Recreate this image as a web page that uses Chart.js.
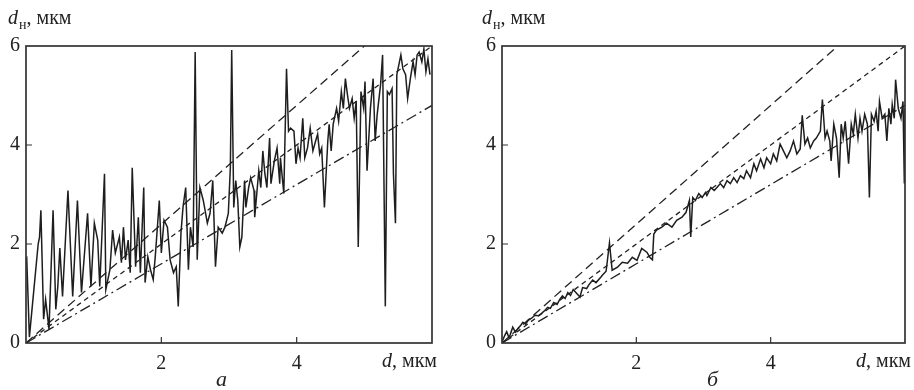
<!DOCTYPE html>
<html>
<head>
<meta charset="utf-8">
<script src="https://cdn.jsdelivr.net/npm/chart.js@4.4.0/dist/chart.umd.min.js"></script>
<style>
  body { margin: 0; background: #fff; }
  #tela { position: relative; width: 914px; height: 390px; overflow: hidden; }
  canvas { position: absolute; top: 0; }
  .txt { position: absolute; font-family: "Liberation Serif", serif; color: #222; white-space: nowrap; font-size: 20px; line-height: 22px; }
  .cap { font-size: 22px; line-height: 26px; font-style: italic; }
  sub { font-size: 14px; vertical-align: -5px; margin-left: 1px; }
</style>
</head>
<body>
<div id="tela">
  <canvas id="graf1" width="457" height="390" style="left:0px"></canvas>
  <canvas id="graf2" width="457" height="390" style="left:457px"></canvas>

  <div class="txt" style="left:8px;top:6px"><i>d</i><sub>н</sub>, мкм</div>
  <div class="txt" style="left:382px;top:349px"><i>d</i>, мкм</div>
  <div class="txt cap" style="left:216px;top:366px">а</div>

  <div class="txt" style="left:482px;top:6px"><i>d</i><sub>н</sub>, мкм</div>
  <div class="txt" style="left:856px;top:349px"><i>d</i>, мкм</div>
  <div class="txt cap" style="left:707px;top:366px">б</div>
</div>

<script>
// dados do painel a
var xA = [0.01,0.05,0.18,0.20,0.22,0.26,0.29,0.34,0.40,0.44,
          0.47,0.50,0.54,0.62,0.69,0.76,0.82,0.91,0.96,1.01,
          1.06,1.09,1.16,1.18,1.24,1.28,1.32,1.38,1.41,1.44,
          1.47,1.51,1.54,1.57,1.62,1.66,1.69,1.74,1.76,1.80,
          1.84,1.88,1.91,1.97,2.00,2.04,2.09,2.13,2.18,2.22,
          2.25,2.29,2.32,2.36,2.40,2.43,2.47,2.50,2.53,2.57,
          2.62,2.68,2.72,2.76,2.80,2.84,2.90,2.94,2.99,3.02,
          3.04,3.07,3.10,3.13,3.16,3.19,3.23,3.25,3.29,3.32,
          3.37,3.38,3.44,3.47,3.50,3.53,3.56,3.60,3.62,3.67,
          3.71,3.75,3.76,3.81,3.85,3.88,3.91,3.96,3.99,4.02,
          4.05,4.09,4.12,4.16,4.20,4.24,4.28,4.31,4.34,4.37,
          4.41,4.46,4.48,4.51,4.54,4.59,4.62,4.66,4.69,4.72,
          4.75,4.78,4.82,4.85,4.88,4.91,4.95,4.99,5.01,5.04,
          5.09,5.13,5.16,5.19,5.24,5.27,5.31,5.34,5.37,5.41,
          5.43,5.46,5.48,5.51,5.54,5.57,5.61,5.64,5.68,5.72,
          5.75,5.78,5.81,5.85,5.88,5.91,5.94,5.97]
var yA = [1.75,0.12,2.00,2.14,2.68,0.48,0.88,0.28,2.68,0.68,
          1.14,1.92,0.94,3.08,0.94,2.88,1.02,2.62,1.14,2.42,
          2.08,1.14,3.42,1.08,1.48,2.28,1.82,2.14,1.62,2.34,
          1.68,2.08,1.42,3.54,1.54,2.54,1.42,3.14,1.22,1.74,
          1.48,1.28,1.74,2.88,1.82,2.48,2.34,1.68,1.42,1.54,
          0.74,2.22,2.74,3.14,1.48,2.34,1.94,5.88,1.68,3.14,
          2.88,2.42,2.62,3.28,1.54,2.34,2.22,2.34,2.62,3.54,
          5.92,2.74,3.28,2.88,1.94,2.14,3.28,2.74,3.14,3.34,
          3.08,2.54,3.48,3.14,3.88,3.42,3.14,4.14,3.22,3.68,
          3.94,3.22,3.74,3.02,5.54,4.28,4.34,4.28,3.62,3.94,
          3.74,4.54,3.74,3.94,4.34,3.88,4.08,4.22,3.82,3.94,
          2.74,4.08,4.42,3.88,4.42,4.74,4.48,5.08,4.74,5.34,
          5.02,4.74,4.94,4.54,4.88,1.94,5.08,4.74,5.28,3.48,
          4.74,5.34,4.08,4.62,5.22,5.82,0.74,5.08,5.02,5.14,
          3.42,2.42,5.42,5.62,5.82,5.54,5.42,4.94,5.34,5.68,
          5.42,5.82,5.88,5.68,5.94,5.48,5.74,5.42]

// dados do painel б
var xB = [0.00,0.04,0.07,0.10,0.12,0.16,0.20,0.24,0.28,0.31,
          0.35,0.39,0.44,0.49,0.54,0.59,0.64,0.68,0.72,0.77,
          0.82,0.86,0.90,0.94,0.98,1.02,1.06,1.10,1.16,1.20,
          1.26,1.29,1.35,1.40,1.47,1.50,1.55,1.60,1.64,1.72,
          1.79,1.87,1.94,2.01,2.08,2.16,2.20,2.24,2.26,2.30,
          2.38,2.45,2.53,2.60,2.68,2.74,2.79,2.81,2.84,2.88,
          2.93,2.98,3.03,3.05,3.11,3.16,3.20,3.25,3.30,3.35,
          3.40,3.45,3.50,3.55,3.60,3.64,3.70,3.75,3.79,3.85,
          3.90,3.94,4.00,4.04,4.09,4.14,4.19,4.24,4.29,4.34,
          4.39,4.44,4.47,4.51,4.55,4.59,4.64,4.68,4.74,4.77,
          4.81,4.84,4.88,4.90,4.94,4.98,5.02,5.05,5.08,5.11,
          5.16,5.20,5.23,5.26,5.30,5.33,5.36,5.40,5.44,5.47,
          5.50,5.54,5.57,5.60,5.62,5.66,5.70,5.73,5.76,5.79,
          5.81,5.84,5.86,5.90,5.94,5.97,5.99,6.00]
var yB = [0.02,0.15,0.23,0.12,0.16,0.32,0.22,0.30,0.36,0.42,
          0.38,0.46,0.50,0.56,0.55,0.60,0.66,0.72,0.70,0.82,
          0.78,0.88,0.95,0.90,1.02,0.96,1.08,1.02,0.93,1.12,
          1.10,1.17,1.27,1.22,1.33,1.38,1.45,2.02,1.47,1.53,
          1.63,1.61,1.73,1.67,1.91,1.83,1.73,1.68,2.20,2.28,
          2.34,2.42,2.34,2.48,2.54,2.64,2.88,2.14,2.94,2.88,
          3.02,2.94,3.04,2.98,3.14,3.08,3.14,3.22,3.14,3.28,
          3.22,3.34,3.24,3.38,3.32,3.48,3.34,3.62,3.48,3.72,
          3.54,3.74,3.62,3.82,3.68,4.02,3.88,3.74,3.88,4.08,
          3.82,3.92,4.60,4.02,4.14,3.94,4.08,4.14,4.28,4.92,
          4.14,4.28,4.08,3.68,4.42,4.14,3.34,4.42,4.14,4.48,
          3.62,4.42,4.22,4.62,4.14,4.54,4.28,4.62,4.42,2.94,
          4.62,4.48,4.68,4.28,4.88,4.54,4.62,4.08,4.74,4.42,
          4.82,4.54,5.32,4.74,4.54,4.88,3.22,4.74]

// retas de referencia (inicio e fim)
var xReta = [0, 6]
var retaTraco = [0, 7.2]      // tracejado longo
var retaPonto = [0, 6.0]      // tracejado curto
var retaTracoPonto = [0, 4.8] // traco-ponto

var marcas = [2, 4]

function pares(xs, ys) {
  return xs.map(function(v, i) { return { x: v, y: ys[i] } })
}

// moldura do grafico e marcas para dentro
var moldura = {
  id: 'moldura',
  afterDatasetsDraw: function(chart) {
    var ctx = chart.ctx
    var a = chart.chartArea
    var sx = chart.scales.x
    var sy = chart.scales.y
    ctx.save()
    ctx.strokeStyle = '#333'
    ctx.lineWidth = 1.7
    ctx.strokeRect(a.left, a.top, a.right - a.left, a.bottom - a.top)
    ctx.lineWidth = 1.2
    ctx.beginPath()
    marcas.forEach(function(v) {
      var px = sx.getPixelForValue(v)
      ctx.moveTo(px, a.bottom)
      ctx.lineTo(px, a.bottom - 6)
      var py = sy.getPixelForValue(v)
      ctx.moveTo(a.left, py)
      ctx.lineTo(a.left + 6, py)
    })
    ctx.stroke()
    ctx.restore()
  }
}

function montaGrafico(id, xs, ys, largY, padDir) {
  var ctx = document.getElementById(id).getContext('2d')
  return new Chart(ctx, {
    type: 'line',
    data: {
      datasets: [{
        data: pares(xs, ys),
        borderColor: '#1e1e1e',
        borderWidth: 1.5,
        pointRadius: 0,
        tension: 0
      },
      {
        data: pares(xReta, retaTraco),
        borderColor: '#222',
        borderWidth: 1.3,
        borderDash: [9, 5],
        pointRadius: 0
      },
      {
        data: pares(xReta, retaPonto),
        borderColor: '#222',
        borderWidth: 1.3,
        borderDash: [5, 4],
        pointRadius: 0
      },
      {
        data: pares(xReta, retaTracoPonto),
        borderColor: '#222',
        borderWidth: 1.3,
        borderDash: [11, 4, 2, 4],
        pointRadius: 0
      }]
    },
    options: {
      responsive: false,
      animation: false,
      layout: { padding: { top: 46, right: padDir, left: 0, bottom: 0 } },
      plugins: {
        legend: { display: false },
        tooltip: { enabled: false }
      },
      scales: {
        x: {
          type: 'linear',
          min: 0,
          max: 6,
          grid: { display: false, drawTicks: false },
          border: { display: false },
          afterFit: function(s) { s.height = 47 },
          ticks: {
            stepSize: 2,
            padding: 9,
            color: '#222',
            font: { family: 'Liberation Serif', size: 20 },
            maxRotation: 0,
            callback: function(v) { return (v === 2 || v === 4) ? String(v) : '' }
          }
        },
        y: {
          min: 0,
          max: 6,
          grid: { display: false, drawTicks: false },
          border: { display: false },
          afterFit: function(s) { s.width = largY },
          ticks: {
            stepSize: 2,
            padding: 6,
            color: '#222',
            font: { family: 'Liberation Serif', size: 20 }
          }
        }
      }
    },
    plugins: [moldura]
  })
}

montaGrafico('graf1', xA, yA, 26, 25)
montaGrafico('graf2', xB, yB, 45, 7)
</script>
</body>
</html>
